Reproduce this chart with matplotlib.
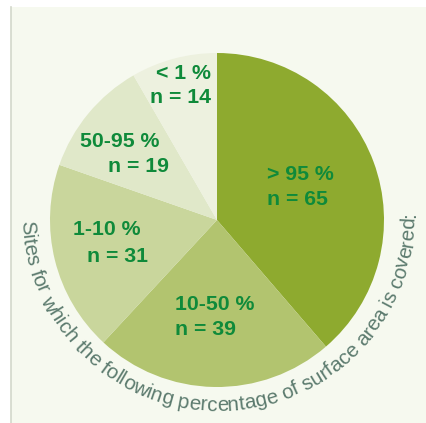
import numpy as np
import matplotlib.pyplot as plt
from matplotlib.patches import Rectangle
from matplotlib.font_manager import FontProperties

# share of sites per coverage class, clockwise from 12 o'clock
labels = ['> 95 %', '10-50 %', '1-10 %', '50-95 %', '< 1 %']
counts = [65, 39, 31, 19, 14]
colors = ['#8eaa2f', '#b2c46f', '#c9d69c', '#e0e8c9', '#edf1df']
caption = 'Sites for which the following percentage of surface area is covered:'

W, H = 427, 423
fig = plt.figure(figsize=(W / 100, H / 100), dpi=100)
ax = fig.add_axes([0, 0, 1, 1])

# background panel with thin grey rule on the left
ax.add_patch(Rectangle((11, 0), W - 11, H - 7, facecolor='#f6f9ef', edgecolor='none', zorder=0))
ax.plot([11.5, 11.5], [0, H - 7], color='#d3d8cb', lw=1.2, zorder=1)

cx, cy, r = 217, H - 220, 167
ax.pie(counts, colors=colors, startangle=90, counterclock=False, radius=r,
       center=(cx, cy), wedgeprops=dict(linewidth=0), frame=True)

# slice labels: (x, y of first line, alignment)
green = '#0f8a3a'
lab_pos = {
    '> 95 %': (267, 174, 'left'),
    '10-50 %': (175, 304, 'left'),
    '1-10 %': (107, 229, 'center'),
    '50-95 %': (120, 141, 'center'),
    '< 1 %': (211, 73, 'right'),
}
n_pos = {
    '> 95 %': (267, 199, 'left'),
    '10-50 %': (175, 329, 'left'),
    '1-10 %': (118, 256, 'center'),
    '50-95 %': (139, 166, 'center'),
    '< 1 %': (211, 97, 'right'),
}
bold = dict(family='Liberation Sans', weight='bold', size=15.3, color=green)
for lab, n in zip(labels, counts):
    x, y, ha = lab_pos[lab]
    ax.text(x, H - y, lab, ha=ha, va='center', **bold)
    x, y, ha = n_pos[lab]
    ax.text(x, H - y, f'n = {n}', ha=ha, va='center', **bold)

# caption set along an arc below the pie, letter by letter
fp = FontProperties(family='Liberation Sans', size=14.9)
renderer = fig.canvas.get_renderer()

def text_w(s):
    w, _, _ = renderer.get_text_width_height_descent(s, fp, ismath=False)
    return w

tcx, tcy, R = 218, H - 214, 197
theta0 = np.deg2rad(182.0)
for i, ch in enumerate(caption):
    if ch == ' ':
        continue
    s = text_w(caption[:i + 1]) - text_w(ch) / 2
    th = theta0 + s / R
    ax.text(tcx + R * np.cos(th), tcy + R * np.sin(th), ch, fontproperties=fp,
            color='#5c7b6e', ha='center', va='baseline',
            rotation=np.rad2deg(th) + 90, rotation_mode='anchor')

ax.set_xlim(0, W)
ax.set_ylim(0, H)
ax.set_aspect('auto')
ax.set_axis_off()
fig.savefig('out.png', dpi=100, facecolor='white')
